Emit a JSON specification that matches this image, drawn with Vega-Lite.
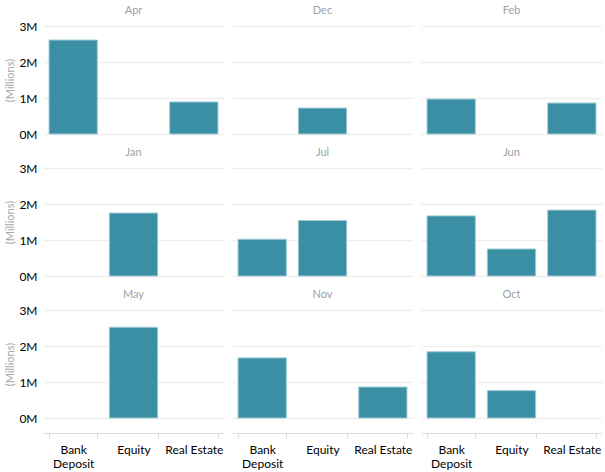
{
  "$schema": "https://vega.github.io/schema/vega-lite/v6.json",
  "padding": {"left": 4, "top": 5, "right": 2, "bottom": 2},
  "background": "#ffffff",
  "data": {"values": [
    {"month": "Apr", "type": "Bank Deposit", "value": 2610000},
    {"month": "Apr", "type": "Real Estate", "value": 890000},
    {"month": "Dec", "type": "Equity", "value": 720000},
    {"month": "Feb", "type": "Bank Deposit", "value": 970000},
    {"month": "Feb", "type": "Real Estate", "value": 860000},
    {"month": "Jan", "type": "Equity", "value": 1750000},
    {"month": "Jul", "type": "Bank Deposit", "value": 1020000},
    {"month": "Jul", "type": "Equity", "value": 1540000},
    {"month": "Jun", "type": "Bank Deposit", "value": 1670000},
    {"month": "Jun", "type": "Equity", "value": 750000},
    {"month": "Jun", "type": "Real Estate", "value": 1830000},
    {"month": "May", "type": "Equity", "value": 2520000},
    {"month": "Nov", "type": "Bank Deposit", "value": 1670000},
    {"month": "Nov", "type": "Real Estate", "value": 860000},
    {"month": "Oct", "type": "Bank Deposit", "value": 1840000},
    {"month": "Oct", "type": "Equity", "value": 760000}
  ]},
  "facet": {
    "field": "month",
    "type": "nominal",
    "title": null,
    "header": {"labelColor": "#a0a0a0", "labelFontSize": 11, "labelFont": "Lato", "labelPadding": 10}
  },
  "columns": 3,
  "spacing": {"row": 12, "column": 8},
  "spec": {
    "width": 181,
    "height": 108,
    "mark": {"type": "bar", "color": "#3a8fa5", "stroke": "#9ccad6", "strokeWidth": 1},
    "encoding": {
      "x": {
        "field": "type",
        "type": "nominal",
        "scale": {"paddingInner": 0.2, "paddingOuter": 0.1},
        "axis": {
          "title": null,
          "offset": 14,
          "labelAngle": 0,
          "labelColor": "#000000",
          "labelFontSize": 12,
          "labelFont": "Lato",
          "labelPadding": 6,
          "labelExpr": "datum.label == 'Bank Deposit' ? ['Bank', 'Deposit'] : datum.label",
          "domainColor": "#dddddd",
          "tickColor": "#dddddd",
          "tickBand": "extent",
          "tickSize": 5
        }
      },
      "y": {
        "field": "value",
        "type": "quantitative",
        "scale": {"domain": [0, 3000000], "nice": false},
        "axis": {
          "title": "(Millions)",
          "titleColor": "#a8a8a8",
          "titleFontWeight": "normal",
          "titleFontSize": 11,
          "titleFont": "Lato",
          "titlePadding": 3,
          "values": [0, 1000000, 2000000, 3000000],
          "labelExpr": "(datum.value / 1000000) + 'M'",
          "labelColor": "#000000",
          "labelFontSize": 12,
          "labelFont": "Lato",
          "labelPadding": 6,
          "domain": false,
          "ticks": false,
          "grid": true,
          "gridColor": "#eeeeee",
          "gridWidth": 1.5
        }
      }
    }
  },
  "config": {"view": {"stroke": null}}
}
